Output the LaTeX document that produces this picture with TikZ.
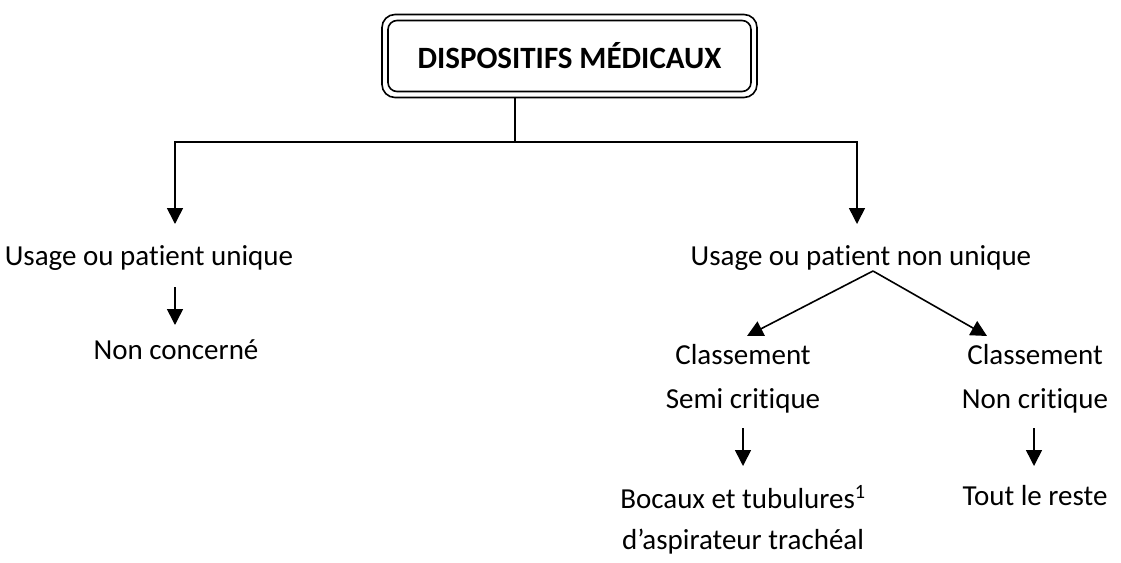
\documentclass[tikz,border=0pt]{standalone}
\usepackage{fontspec}
\setmainfont[RawFeature={-liga;-calt;-clig;-dlig}]{Carlito}
\usetikzlibrary{arrows.meta}
\begin{document}
\begin{tikzpicture}[x=1pt,y=-1pt,
  txt/.style={font=\fontsize{29}{35}\selectfont, inner sep=0pt, anchor=base},
  ln/.style={line width=1.6pt},
  arr/.style={line width=1.6pt, -{Triangle[length=16pt,width=16pt]}}]
\useasboundingbox (0,0) rectangle (1121,562);
\fill[white] (0,0) rectangle (1121,562);
% title box (double border)
\node[draw, ln, rounded corners=13pt, minimum width=375pt, minimum height=83pt] (outer) at (569.5,56) {};
\node[draw, ln, rounded corners=9pt, minimum width=363pt, minimum height=71pt,
      font=\fontsize{31}{37}\selectfont\bfseries] (title) at (569.5,56) {DISPOSITIFS MÉDICAUX};
% text nodes
\node[txt] (uu)  at (149,265) {Usage ou patient unique};
\node[txt] (unu) at (861,265) {Usage ou patient non unique};
\node[txt] (nc)  at (176,359) {Non concerné};
\node[txt] (cs1) at (743,364) {Classement};
\node[txt] (cs2) at (743,408) {Semi critique};
\node[txt] (cn1) at (1035,364) {Classement};
\node[txt] (cn2) at (1035,408) {Non critique};
\node[txt] (boc1) at (743,508) {Bocaux et tubulures\textsuperscript{1}};
\node[txt] (boc2) at (743,549) {d’aspirateur trachéal};
\node[txt] (tr)  at (1035,505) {Tout le reste};
% connector coordinates
\coordinate (j)  at (515,142);
\coordinate (a1) at (175,224);
\coordinate (a2) at (857,224);
\coordinate (b1s) at (175,287);
\coordinate (b1e) at (175,325);
\coordinate (apex) at (873,271);
\coordinate (c1) at (747,336);
\coordinate (c2) at (987,336);
\coordinate (d1s) at (743,428);
\coordinate (d1e) at (743,466);
\coordinate (d2s) at (1034,428);
\coordinate (d2e) at (1034,466);
% connectors
\draw[ln] (outer.south -| j) -- (j);
\draw[arr] (j) -| (a1);
\draw[arr] (j) -| (a2);
\draw[arr] (b1s) -- (b1e);
\draw[arr] (apex) -- (c1);
\draw[arr] (apex) -- (c2);
\draw[arr] (d1s) -- (d1e);
\draw[arr] (d2s) -- (d2e);
\end{tikzpicture}
\end{document}
